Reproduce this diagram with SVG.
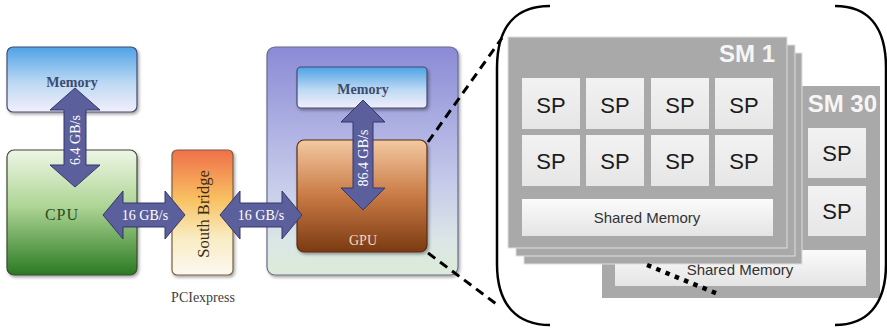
<svg xmlns="http://www.w3.org/2000/svg" width="887" height="330" viewBox="0 0 887 330">
  <defs>
    <linearGradient id="gMem" x1="0" y1="0" x2="0" y2="1">
      <stop offset="0" stop-color="#4ea2e6"/>
      <stop offset="0.55" stop-color="#bcd9f3"/>
      <stop offset="1" stop-color="#f3eefa"/>
    </linearGradient>
    <linearGradient id="gCpu" x1="0" y1="0" x2="0" y2="1">
      <stop offset="0" stop-color="#eef6e6"/>
      <stop offset="0.45" stop-color="#aed595"/>
      <stop offset="1" stop-color="#2a7a22"/>
    </linearGradient>
    <linearGradient id="gSb" x1="0" y1="0" x2="0" y2="1">
      <stop offset="0" stop-color="#f0704a"/>
      <stop offset="0.4" stop-color="#f8c262"/>
      <stop offset="0.7" stop-color="#f9ecc2"/>
      <stop offset="1" stop-color="#fcf8f2"/>
    </linearGradient>
    <linearGradient id="gBoard" x1="0" y1="0" x2="0" y2="1">
      <stop offset="0" stop-color="#8a8ad6"/>
      <stop offset="0.6" stop-color="#c6cbea"/>
      <stop offset="0.85" stop-color="#dbe6e6"/>
      <stop offset="1" stop-color="#dcebd8"/>
    </linearGradient>
    <linearGradient id="gGpu" x1="0" y1="0" x2="0" y2="1">
      <stop offset="0" stop-color="#f3c9a2"/>
      <stop offset="0.5" stop-color="#c97a44"/>
      <stop offset="1" stop-color="#7a3a12"/>
    </linearGradient>
    <linearGradient id="gCell" x1="0" y1="0" x2="0" y2="1">
      <stop offset="0" stop-color="#f2f2f2"/>
      <stop offset="1" stop-color="#e6e6e6"/>
    </linearGradient>
    <linearGradient id="gShared" x1="0" y1="0" x2="0" y2="1">
      <stop offset="0" stop-color="#fbfbfb"/>
      <stop offset="1" stop-color="#e4e4e4"/>
    </linearGradient>
    <filter id="shadow" x="-10%" y="-10%" width="125%" height="125%">
      <feDropShadow dx="1.5" dy="2" stdDeviation="1.5" flood-color="#000" flood-opacity="0.35"/>
    </filter>
  </defs>
  <style>
    .box { stroke-width: 1.2; filter: url(#shadow); }
    .arrow { fill: #5b5f9c; stroke: #34376c; stroke-width: 1; }
    .serif { font-family: "Liberation Serif", "DejaVu Serif", serif; }
    .lbl { fill: #ffffff; font-size: 14px; text-anchor: middle; }
    .mem { fill: #3c4a6e; font-size: 14px; font-weight: bold; text-anchor: middle; }
    .sm { fill: #a9a9a9; }
    .smlayer { fill: #a9a9a9; stroke: #dedede; stroke-width: 1; }
    .cell { fill: url(#gCell); }
    .shared { fill: url(#gShared); }
    .sans { font-family: "Liberation Sans", Arial, sans-serif; }
    .sp { fill: #1c1c1c; font-size: 22px; text-anchor: middle; }
    .smt { fill: #f6f6f6; font-size: 24px; font-weight: bold; text-anchor: end; }
    .smem { fill: #333333; font-size: 15px; text-anchor: middle; }
  </style>

  <rect width="887" height="330" fill="#ffffff"/>

  <!-- host side -->
  <g id="host-memory">
    <rect class="box" x="7" y="47" width="130" height="65" rx="6" fill="url(#gMem)" stroke="#454b72"/>
    <text class="serif mem" x="72" y="87">Memory</text>
  </g>
  <g id="cpu">
    <rect class="box" x="7" y="150" width="130" height="125" rx="7" fill="url(#gCpu)" stroke="#3a4a34"/>
    <text class="serif" x="62" y="220" font-size="16" fill="#2a4e22" text-anchor="middle" letter-spacing="1">CPU</text>
  </g>
  <g id="south-bridge">
    <rect class="box" x="172" y="150" width="61" height="125" rx="5" fill="url(#gSb)" stroke="#7a6040"/>
    <text class="serif" transform="translate(209,214) rotate(-90)" font-size="16.5" fill="#3a2c14" text-anchor="middle">South Bridge</text>
  </g>
  <g id="pciexpress-label">
    <text class="serif" x="203" y="302" font-size="14" fill="#404040" text-anchor="middle">PCIexpress</text>
  </g>

  <!-- graphics board -->
  <g id="gpu-board">
    <rect class="box" x="267" y="47" width="191" height="228" rx="8" fill="url(#gBoard)" stroke="#6a6a8e"/>
  </g>
  <g id="gpu-memory">
    <rect class="box" x="297" y="67" width="130" height="41" rx="4" fill="url(#gMem)" stroke="#454b72"/>
    <text class="serif mem" x="363" y="94">Memory</text>
  </g>
  <g id="gpu">
    <rect class="box" x="297" y="140" width="130" height="112" rx="7" fill="url(#gGpu)" stroke="#5a2e10"/>
    <text class="serif" x="363" y="245" font-size="14" fill="#f2dcc2" text-anchor="middle">GPU</text>
  </g>

  <!-- streaming multiprocessors -->
  <g id="sm30">
    <rect class="sm" x="602" y="86" width="278" height="212"/>
    <text class="sans smt" x="877" y="112">SM 30</text>
    <rect class="cell" x="808" y="128" width="58" height="50"/>
    <text class="sans sp" x="837" y="161">SP</text>
    <rect class="cell" x="808" y="186" width="58" height="50"/>
    <text class="sans sp" x="837" y="219">SP</text>
    <rect class="shared" x="615" y="250" width="251" height="36"/>
    <text class="sans smem" x="740" y="275">Shared Memory</text>
  </g>
  <g id="sm1">
    <rect class="smlayer" x="524" y="53" width="278" height="211"/>
    <rect class="smlayer" x="516" y="45" width="279" height="211"/>
    <rect class="smlayer" x="508" y="37" width="279" height="211"/>
    <text class="sans smt" x="775" y="62">SM 1</text>
    <rect class="cell" x="522" y="78" width="58" height="51"/>
    <rect class="cell" x="586" y="78" width="58" height="51"/>
    <rect class="cell" x="651" y="78" width="58" height="51"/>
    <rect class="cell" x="715" y="78" width="58" height="51"/>
    <rect class="cell" x="522" y="135" width="58" height="51"/>
    <rect class="cell" x="586" y="135" width="58" height="51"/>
    <rect class="cell" x="651" y="135" width="58" height="51"/>
    <rect class="cell" x="715" y="135" width="58" height="51"/>
    <text class="sans sp" x="551" y="113">SP</text>
    <text class="sans sp" x="615" y="113">SP</text>
    <text class="sans sp" x="680" y="113">SP</text>
    <text class="sans sp" x="744" y="113">SP</text>
    <text class="sans sp" x="551" y="169">SP</text>
    <text class="sans sp" x="615" y="169">SP</text>
    <text class="sans sp" x="680" y="169">SP</text>
    <text class="sans sp" x="744" y="169">SP</text>
    <rect class="shared" x="522" y="199" width="251" height="37"/>
    <text class="sans smem" x="647" y="223">Shared Memory</text>
  </g>

  <!-- bandwidth arrows, zoom lines and enclosing bracket -->
  <g id="connectors">
    <polygon class="arrow" points="75,88 100,110 86,110 86,165 100,165 75,187 50,165 64,165 64,110 50,110"/>
    <text class="serif lbl" transform="translate(80,140) rotate(-90)">6.4 GB/s</text>

    <polygon class="arrow" points="103,215 123,191 123,203 165,203 165,191 185,215 165,239 165,227 123,227 123,239"/>
    <text class="serif lbl" x="145" y="220">16 GB/s</text>

    <polygon class="arrow" points="220,215 240,191 240,203 282,203 282,191 302,215 282,239 282,227 240,227 240,239"/>
    <text class="serif lbl" x="261" y="220">16 GB/s</text>

    <polygon class="arrow" points="363,100 385,122 373,122 373,188 385,188 363,210 341,188 353,188 353,122 341,122"/>
    <text class="serif lbl" transform="translate(368,158) rotate(-90)" font-size="15.5">86.4 GB/s</text>

    <line x1="428" y1="142" x2="502" y2="38" stroke="#000" stroke-width="3" stroke-dasharray="9 6"/>
    <line x1="428" y1="253" x2="499" y2="306" stroke="#000" stroke-width="3" stroke-dasharray="9 6"/>

    <path d="M 550,6 C 518,6 497,24 497,68 L 497,264 C 497,306 518,325 550,325" fill="none" stroke="#000" stroke-width="2.5"/>
    <path d="M 835,6 C 866,6 886,24 886,68 L 886,264 C 886,306 866,325 835,325" fill="none" stroke="#000" stroke-width="2.5"/>

    <line x1="647" y1="265" x2="718" y2="294" stroke="#000" stroke-width="4.5" stroke-dasharray="4.5 5.5"/>
  </g>
</svg>
